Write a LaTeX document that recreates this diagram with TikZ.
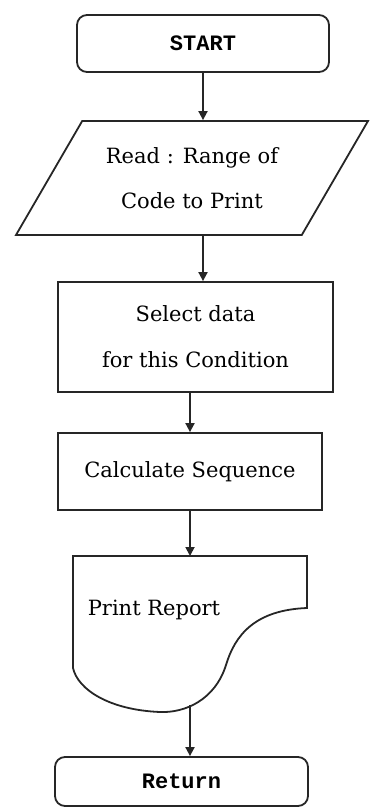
\documentclass[tikz,border=0pt]{standalone}
\usepackage{fontspec}
\setmainfont{DejaVu Serif}
\setmonofont{Liberation Mono}
\usepackage{tikz}
\usetikzlibrary{shapes.geometric, arrows.meta}
\tikzset{
    term/.style   = {draw=black!85, rounded corners=5pt, line width=0.9pt, minimum width=126pt,
                     minimum height=28.5pt, font=\fontsize{11}{13}\selectfont\ttfamily\bfseries},
    inout/.style  = {draw=black!85, trapezium, trapezium left angle=48.4, trapezium right angle=131.6,
                     trapezium stretches body=true, line width=0.9pt, minimum width=176pt,
                     minimum height=57pt, align=center, font=\fontsize{10.5}{22.5}\selectfont},
    proc/.style   = {draw=black!85, rectangle, line width=0.9pt, align=center,
                     font=\fontsize{10.5}{23}\selectfont},
    texto/.style  = {font=\fontsize{10.5}{14}\selectfont},
    flow/.style   = {-{Triangle[length=4.5pt,width=4.5pt]}, line width=0.9pt, black!85},
}

\begin{document}
\begin{tikzpicture}[x=0.5pt, y=-0.5pt]
    \useasboundingbox (0,0) rectangle (370,809);
    \node[term] (start) at (203,43.5) {START};
    \node[inout] (read) at (192,178) {Read : Range of\\Code to Print};
    \node[proc, minimum width=137.5pt, minimum height=55pt] (select) at (195.5,337)
        {Select data\\for this Condition};
    \node[proc, minimum width=132pt, minimum height=38.5pt] (calc) at (190,471.5)
        {Calculate Sequence};
    % documento
    \draw[line width=0.9pt, black!85] (73,556) -- (307,556) -- (307,608)
        .. controls (255,610) and (235,635) .. (226,665)
        .. controls (215,700) and (185,713) .. (160,712)
        .. controls (110,710) and (78,690) .. (73,668) -- cycle;
    \node[texto] (print) at (154,610) {Print Report};
    \coordinate (doctop) at (190,556);
    \coordinate (docbot) at (190,705);
    \node[term, minimum width=126.5pt, minimum height=24.5pt] (ret) at (181.5,781.5) {Return};

    \draw[flow] (start.south) -- (start.south |- read.north);
    \draw[flow] (read.south -| start.south) -- (start.south |- select.north);
    \draw[flow] (select.south -| calc.north) -- (calc.north);
    \draw[flow] (calc.south) -- (doctop);
    \draw[flow] (docbot) -- (docbot |- ret.north);
\end{tikzpicture}
\end{document}
